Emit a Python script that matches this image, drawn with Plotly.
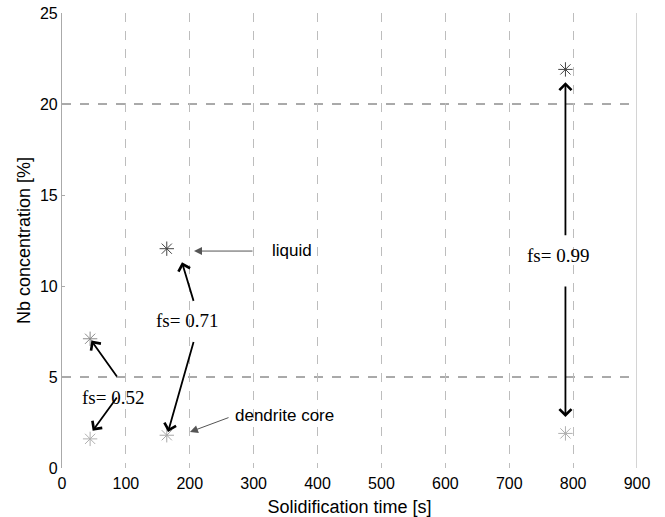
import plotly.graph_objects as go

# Data
time_s = [44, 164, 788]
liquid_nb = [7.1, 12.05, 21.9]
core_nb = [1.6, 1.8, 1.9]
liquid_colors = ["#8a8a8a", "#444444", "#444444"]
core_colors = ["#b0b0b0", "#a8a8a8", "#b0b0b0"]

x_ticks = [0, 100, 200, 300, 400, 500, 600, 700, 800, 900]
y_ticks = [0, 5, 10, 15, 20, 25]
h_lines = [5, 20]

# fs labels: (text, text_x, text_y, [(tail_x, tail_y, head_x, head_y), ...])
fs_labels = [
    ("fs= 0.52", 80, 3.9, [(87.6, 4.94, 46, 7.0), (87.6, 3.96, 48, 2.05)]),
    ("fs= 0.71", 196, 8.1, [(206.6, 9.1, 187.8, 11.3), (206.6, 7.0, 166, 1.98)]),
    ("fs= 0.99", 776, 11.65, [(788, 12.7, 788, 21.2), (788, 10.05, 788, 2.8)]),
]
phase_labels = [
    ("liquid", 325.6, 11.95, 300.5, 11.92, 206.6, 11.92),
    ("dendrite core", 267.6, 2.9, 263, 2.8, 200.3, 1.98),
]

fig = go.Figure()
fig.add_trace(go.Scatter(
    x=time_s, y=liquid_nb, mode="markers",
    marker=dict(symbol="asterisk-open", size=12, color=liquid_colors,
                line=dict(width=1, color=liquid_colors)),
    showlegend=False, hoverinfo="skip"))
fig.add_trace(go.Scatter(
    x=time_s, y=core_nb, mode="markers",
    marker=dict(symbol="asterisk-open", size=12, color=core_colors,
                line=dict(width=1, color=core_colors)),
    showlegend=False, hoverinfo="skip"))

for yv in h_lines:
    fig.add_shape(type="line", xref="x", yref="y", x0=0, x1=900, y0=yv, y1=yv,
                  line=dict(color="#555555", width=1, dash="dash"), layer="below")
fig.add_shape(type="line", xref="x", yref="y", x0=900, x1=900, y0=0, y1=25,
              line=dict(color="#b8b8b8", width=1.2), layer="below")

annotations = []
for text, tx, ty, arrows in fs_labels:
    annotations.append(dict(x=tx, y=ty, xref="x", yref="y", text=text, showarrow=False,
                            font=dict(family="Liberation Serif", size=19, color="black")))
    for (ax_, ay_, hx, hy) in arrows:
        annotations.append(dict(x=hx, y=hy, ax=ax_, ay=ay_, xref="x", yref="y",
                                axref="x", ayref="y", text="", showarrow=True,
                                arrowhead=4, arrowsize=1.3, arrowwidth=1.8,
                                arrowcolor="black", standoff=0))
for text, tx, ty, ax_, ay_, hx, hy in phase_labels:
    annotations.append(dict(x=tx, y=ty, xref="x", yref="y", text=text, showarrow=False,
                            xanchor="left",
                            font=dict(family="Liberation Sans", size=17, color="black")))
    annotations.append(dict(x=hx, y=hy, ax=ax_, ay=ay_, xref="x", yref="y",
                            axref="x", ayref="y", text="", showarrow=True,
                            arrowhead=2, arrowsize=1.6, arrowwidth=1,
                            arrowcolor="#555555", standoff=0))

fig.update_layout(
    width=665, height=517,
    margin=dict(l=62, r=28, t=13, b=49),
    paper_bgcolor="white", plot_bgcolor="white",
    font=dict(family="Liberation Sans", size=16, color="black"),
    annotations=annotations,
)
fig.update_xaxes(
    range=[0, 900], tickvals=x_ticks, ticktext=[str(v) for v in x_ticks],
    showgrid=True, gridcolor="#bdbdbd", griddash="dash", gridwidth=1,
    showline=False, zeroline=False, ticks="", automargin=False,
    ticklabelstandoff=4,
    title=dict(text="Solidification time [s]", standoff=12,
               font=dict(family="Liberation Sans", size=18)),
    tickfont=dict(family="Liberation Sans", size=16),
)
fig.update_yaxes(
    range=[0, 25], tickvals=y_ticks, ticktext=[str(v) for v in y_ticks],
    showgrid=False, showline=True, linecolor="#aaaaaa", linewidth=1.2,
    zeroline=False, ticks="inside", ticklen=3, tickcolor="#aaaaaa", automargin=False,
    title=dict(text="Nb concentration [%]", standoff=4,
               font=dict(family="Liberation Sans", size=18)),
    tickfont=dict(family="Liberation Sans", size=16),
)

fig.write_html("out.html")
